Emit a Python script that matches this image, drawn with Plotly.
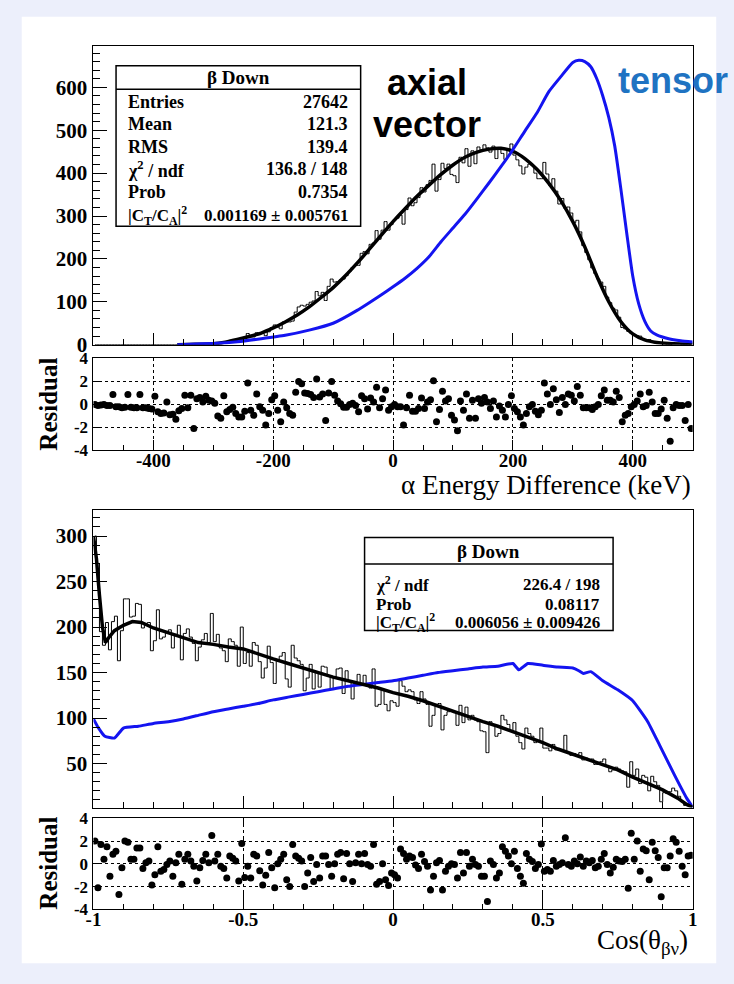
import numpy as np
import plotly.graph_objects as go

# ---------------- data : alpha energy difference (beta down) ----------------
E_MIN, E_MAX = -500.0, 500.0
energy_counts = [
    0, 0, 0, 0, 0, 0, 0, 0, 0, 0,
    0, 0, 0, 0, 0, 0, 0, 0, 0, 0,
    0, 0, 0, 0, 0, 0, 0, 0, 0, 0,
    0, 0, 1, 0, 1, 1, 1, 2, 2, 2,
    3, 2, 2, 7, 5, 7, 9, 9, 9, 10,
    14, 26, 18, 18, 28, 25, 26, 21, 30, 40,
    46, 41, 37, 53, 53, 53, 55, 76, 88, 92,
    90, 94, 99, 102, 124, 114, 122, 103, 136, 153,
    146, 147, 151, 153, 161, 171, 180, 185, 185, 213,
    217, 212, 234, 237, 266, 246, 267, 287, 267, 280,
    291, 295, 302, 281, 315, 342, 324, 331, 343, 366,
    356, 373, 383, 421, 358, 385, 423, 411, 421, 397,
    394, 378, 437, 424, 457, 416, 452, 422, 461, 454,
    466, 459, 449, 463, 434, 455, 446, 432, 454, 468,
    442, 431, 417, 398, 414, 421, 418, 400, 387, 387,
    425, 398, 371, 387, 358, 328, 341, 318, 321, 307,
    285, 290, 263, 231, 215, 198, 179, 166, 153, 146,
    136, 111, 98, 85, 81, 64, 40, 37, 31, 27,
    23, 21, 20, 12, 10, 12, 8, 4, 3, 3,
    4, 1, 0, 2, 2, 2, 1, 0, 1, 0,
]
energy_resid = [
    0, -0.1, -0.05, 0, -0.1, -0.1, 0.85, -0.2, -0.2, -0.3,
    -0.25, 0.85, -0.25, -0.3, -0.3, 0.85, -0.3, -0.3, -0.35, -0.4,
    0.7, -0.65, -0.8, -0.75, 0.2, -0.9, -0.85, -1.3, -0.55, -0.35,
    0.8, -0.3, 0.8, -2.1, 0.5, 0.6, 0.2, 0.7, 0.35, 0.3,
    0.1, -1.0, -1.2, 0.75, -0.65, -0.45, -0.25, -0.8, -1.1, -1.1,
    -0.6, 1.85, -0.5, -0.95, 0.9, -0.2, -0.5, -1.8, -0.8, 0.4,
    0.75, -0.5, -1.5, 0.2, -0.3, -0.8, -0.95, 1.05, 2.0, 1.8,
    1.0, 0.95, 0.85, 0.6, 2.2, 0.65, 0.9, -1.4, 1.0, 2.0,
    0.8, 0.3, 0.05, -0.25, -0.25, 0, 0.1, -0.1, -0.65, 0.75,
    0.5, -0.4, 0.55, 0.2, 1.5, -0.3, 0.5, 1.25, -0.5, -0.2,
    0, -0.2, -0.2, -1.8, -0.3, 0.8, -0.6, -0.6, -0.35, 0.55,
    -0.35, 0.2, 0.4, 2.05, -1.5, -0.45, 1.15, 0.3, 0.5, -0.95,
    -1.35, -2.3, 0.3, -0.5, 0.9, -1.2, 0.35, -1.2, 0.5, 0.1,
    0.6, 0.2, -0.35, 0.3, -1.1, -0.15, -0.5, -1.1, 0, 0.75,
    -0.35, -0.65, -1.1, -1.8, -0.8, -0.2, 0, -0.6, -0.9, -0.5,
    1.85, 0.9, 0, 1.35, 0.4, -0.7, 0.6, 0, 0.9, 0.8,
    0.3, 1.55, 0.8, -0.3, -0.3, -0.3, -0.45, -0.2, 0, 0.75,
    1.25, 0.35, 0.35, 0.2, 1.15, 0.6, -1.5, -0.95, -0.8, -0.2,
    0, 0.3, 0.9, -0.2, -0.1, 1.05, 0.2, -0.8, -0.8, -0.4,
    0.35, -1.2, -3.2, -0.3, 0, -0.1, -0.1, -1.4, 0, -2.1,
]
# axial-vector fit curve
energy_fit_x = [-360, -340, -320, -300, -280, -260, -240, -220, -200, -180,
                -160, -140, -120, -100, -80, -60, -40, -20, 0, 20,
                40, 60, 80, 100, 120, 140, 160, 180, 200, 220,
                240, 260, 280, 300, 320, 340, 360, 380, 400, 420,
                440, 460, 480, 500]
energy_fit_y = [0, 0.5, 1, 2, 6, 12, 19, 27, 39, 53,
                69, 88, 110, 133, 160, 190, 222, 255, 287, 317,
                346, 372, 397, 419, 437, 449, 456, 458, 451, 434,
                409, 376, 336, 287, 228, 160, 100, 54, 25, 11,
                5, 2.5, 1.5, 1]
# tensor curve
energy_tensor_x = [-360, -340, -300, -260, -220, -180, -140, -100, -60, -20,
                   0, 20, 40, 60, 80, 100, 120, 140, 160, 180,
                   200, 220, 240, 260, 280, 300, 310, 320, 330, 340,
                   350, 360, 370, 380, 390, 400, 410, 420, 430, 440,
                   460, 480, 500]
energy_tensor_y = [0, 1, 3, 7, 14, 22, 34, 50, 80, 116,
                   135, 155, 178, 205, 240, 272, 304, 340, 377, 415,
                   455, 498, 540, 590, 625, 658, 663, 660, 648, 620,
                   580, 530, 463, 365, 260, 160, 95, 55, 32, 23,
                   14, 9, 6]

# ---------------- data : cos(theta_beta_nu) (beta down) ----------------
C_MIN, C_MAX = -1.0, 1.0
cos_counts = [
    300, 270, 195, 180, 205, 175, 206, 212, 163, 196,
    231, 231, 211, 212, 226, 225, 199, 204, 205, 174,
    185, 219, 187, 189, 194, 197, 177, 192, 202, 164,
    193, 198, 189, 182, 163, 178, 186, 193, 183, 215,
    184, 192, 177, 174, 162, 187, 184, 180, 157, 200,
    160, 172, 157, 183, 180, 162, 144, 155, 179, 161,
    138, 164, 168, 172, 143, 134, 180, 166, 163, 159,
    130, 144, 159, 132, 150, 134, 157, 156, 146, 132,
    145, 154, 155, 127, 152, 141, 121, 140, 148, 137,
    147, 135, 133, 154, 113, 115, 132, 115, 108, 119,
    117, 113, 141, 135, 129, 131, 129, 120, 116, 129,
    121, 115, 91, 103, 115, 116, 87, 103, 107, 108,
    106, 92, 114, 95, 112, 98, 103, 98, 96, 86,
    85, 62, 96, 92, 80, 83, 103, 98, 93, 86,
    95, 80, 73, 66, 89, 83, 80, 73, 75, 89,
    67, 67, 64, 71, 65, 65, 65, 81, 62, 59,
    61, 58, 62, 54, 56, 54, 55, 49, 49, 52,
    55, 47, 41, 43, 46, 44, 42, 41, 24, 52,
    37, 44, 28, 37, 35, 20, 36, 30, 26, 8,
    18, 17, 19, 23, 20, 14, 8, 4, 6, 4,
]
cos_resid = [
    2.0, -2.1, 1.7, 0.4, 1.5, -1.1, 0.85, 1.1, -2.7, -0.35,
    2.0, 1.9, 0.4, 0.4, 1.4, 1.4, -0.4, 0.1, 0.25, -1.85,
    -0.95, 1.5, -0.65, -0.5, -0.05, 0.25, -1.1, 0.1, 0.85, -1.8,
    0.4, 0.85, 0.25, -0.2, -1.5, -0.35, 0.3, 0.85, 0.1, 2.5,
    0.25, 0.85, -0.2, -0.4, -1.25, 0.7, 0.5, 0.25, -1.5, 1.8,
    -1.2, -0.2, -1.25, 0.85, 0.7, -0.6, -1.85, -1.0, 1.0, -0.35,
    -2.1, 0, 0.4, 0.85, -1.4, -2.0, 1.7, 0.7, 0.5, 0.25,
    -2.0, -0.8, 0.55, -1.55, -0.05, -1.25, 0.7, 0.7, -0.05, -1.1,
    0, 0.85, 1.0, -1.3, 0.9, 0, -1.55, 0.1, 0.85, 0,
    0.9, -0.05, -0.2, 1.7, -1.8, -1.55, 0, -1.4, -1.9, -0.8,
    -0.95, -1.25, 1.3, 0.9, 0.4, 0.7, 0.55, -0.1, -0.4, 0.85,
    0.2, -0.2, -2.3, -1.1, 0.1, 0.3, -2.3, -0.65, -0.2, 0,
    -0.05, -1.25, 1.0, -0.8, 1.0, -0.2, 0.4, -0.05, -0.2, -1.1,
    -1.1, -3.3, 0.25, -0.05, -1.25, -0.8, 1.5, 1.1, 0.7, 0,
    1.1, -0.4, -1.1, -1.7, 0.9, 0.4, 0.2, -0.4, -0.05, 1.75,
    -0.65, -0.5, -0.65, 0.3, -0.2, -0.05, 0.1, 2.3, -0.05, -0.2,
    0.25, 0, 0.6, -0.2, 0.25, 0.1, 0.3, -0.35, -0.2, 0.4,
    0.9, -0.05, -0.8, -0.3, 0.4, 0.25, 0.2, 0.4, -2.15, 2.7,
    0.4, 2.0, -0.65, 1.3, 1.15, -1.4, 1.9, 1.15, 0.55, -2.9,
    -0.35, -0.35, 0.7, 2.2, 1.9, 1.1, -0.2, -0.95, 0.7, 0.75,
]
cos_fit_x = [-1.0, -0.99, -0.98, -0.97, -0.96, -0.95, -0.93, -0.90, -0.87, -0.84,
             -0.80, -0.75, -0.70, -0.65, -0.60, -0.55, -0.50, -0.45, -0.40, -0.35,
             -0.30, -0.25, -0.20, -0.15, -0.10, -0.05, 0.0, 0.05, 0.10, 0.15,
             0.20, 0.25, 0.30, 0.35, 0.40, 0.45, 0.50, 0.55, 0.60, 0.65,
             0.70, 0.75, 0.80, 0.85, 0.90, 0.95, 0.98, 1.0]
cos_fit_y = [300, 275, 235, 200, 183, 188, 196, 202, 206, 205,
             199, 194, 188, 183, 181, 178, 176, 170, 165, 160,
             155, 150, 145, 141, 137, 133, 128, 124, 119, 113,
             107, 101, 96, 91, 85, 80, 73, 66, 60, 54,
             49, 43, 35, 28, 21, 12, 5, 2]
cos_tensor_x = [-1.0, -0.985, -0.962, -0.93, -0.90, -0.85, -0.80, -0.75, -0.70, -0.65,
                -0.60, -0.55, -0.50, -0.45, -0.40, -0.35, -0.30, -0.25, -0.20, -0.15,
                -0.10, -0.05, 0.0, 0.05, 0.10, 0.15, 0.20, 0.25, 0.30, 0.35,
                0.40, 0.42, 0.45, 0.50, 0.55, 0.60, 0.62, 0.635, 0.66, 0.70,
                0.75, 0.80, 0.85, 0.89, 0.94, 0.98, 1.0]
cos_tensor_y = [99, 90, 80, 78, 89, 91, 94, 96, 99, 103,
                107, 110, 113, 116, 120, 123, 126, 129, 132, 135,
                137, 139, 141, 144, 147, 150, 152, 154, 156, 157,
                160, 153, 160, 158, 156, 155, 152, 149, 151, 141,
                131, 119, 96, 70, 37, 12, 2]

# tick labels
energy_tickvals = [-400, -200, 0, 200, 400]
energy_ticktext = ["-400", "-200", "0", "200", "400"]
resid_tickvals = [-4, -2, 0, 2, 4]
resid_ticktext = ["-4", "-2", "0", "2", "4"]
cos_tickvals = [-1, -0.5, 0, 0.5, 1]
cos_ticktext = ["-1", "-0.5", "0", "0.5", "1"]
top_tickvals = [0, 100, 200, 300, 400, 500, 600]
bot_tickvals = [50, 100, 150, 200, 250, 300]

# ---------------- geometry helpers ----------------
W, H = 734, 984


def px(x):
    return x / W


def py(y):
    return 1 - y / H


def centers(lo, hi, n):
    w = (hi - lo) / n
    return np.linspace(lo + w / 2, hi - w / 2, n)


e_x = centers(E_MIN, E_MAX, len(energy_counts))
c_x = centers(C_MIN, C_MAX, len(cos_counts))

SERIF = "Liberation Serif"
SANS = "Liberation Sans"
BLUE = "#1414F0"

fig = go.Figure()

# top histogram
fig.add_trace(go.Scatter(x=e_x, y=energy_counts, mode="lines", line=dict(shape="hvh", color="black", width=1),
                         xaxis="x", yaxis="y", hoverinfo="skip"))
fig.add_trace(go.Scatter(x=energy_fit_x, y=energy_fit_y, mode="lines",
                         line=dict(shape="spline", smoothing=0.6, color="black", width=3.5),
                         xaxis="x", yaxis="y"))
fig.add_trace(go.Scatter(x=energy_tensor_x, y=energy_tensor_y, mode="lines",
                         line=dict(shape="spline", smoothing=0.5, color=BLUE, width=3),
                         xaxis="x", yaxis="y"))
# residual 1
fig.add_trace(go.Scatter(x=e_x, y=energy_resid, mode="markers", marker=dict(color="black", size=7),
                         xaxis="x2", yaxis="y2"))
# bottom histogram
fig.add_trace(go.Scatter(x=c_x, y=cos_counts, mode="lines", line=dict(shape="hvh", color="black", width=1),
                         xaxis="x3", yaxis="y3"))
fig.add_trace(go.Scatter(x=cos_tensor_x, y=cos_tensor_y, mode="lines",
                         line=dict(shape="spline", smoothing=0.4, color=BLUE, width=3),
                         xaxis="x3", yaxis="y3"))
fig.add_trace(go.Scatter(x=cos_fit_x, y=cos_fit_y, mode="lines",
                         line=dict(shape="linear", color="black", width=3.5),
                         xaxis="x3", yaxis="y3"))
# residual 2
fig.add_trace(go.Scatter(x=c_x, y=cos_resid, mode="markers", marker=dict(color="black", size=7),
                         xaxis="x4", yaxis="y4"))

XD = [px(87), px(697)]
tickfont = dict(family=SERIF, size=21, color="black", weight="bold")
xtickfont = dict(family=SERIF, size=19, color="black", weight="bold")
rtickfont = dict(family=SERIF, size=17, color="black", weight="bold")


def frame(**kw):
    d = dict(showline=True, mirror=True, linecolor="black", linewidth=1, zeroline=False,
             ticks="inside", tickcolor="black", tickwidth=1)
    d.update(kw)
    return d


fig.update_layout(
    width=W, height=H, margin=dict(l=0, r=0, t=0, b=0),
    paper_bgcolor="#ECEFFB", plot_bgcolor="white", showlegend=False,
    xaxis=frame(domain=XD, anchor="y", range=[E_MIN, E_MAX], tickmode="array", tickvals=energy_tickvals,
                showticklabels=False, ticklen=12, showgrid=False,
                minor=dict(ticks="inside", ticklen=6, tickmode="linear", tick0=0, dtick=50, tickcolor="black", showgrid=False)),
    yaxis=frame(domain=[py(343), py(38)], anchor="x", range=[0, 696], tickmode="array", tickvals=top_tickvals,
                ticktext=[str(v) for v in top_tickvals], tickfont=tickfont, ticklen=14, showgrid=False,
                ticklabelstandoff=1,
                minor=dict(ticks="inside", ticklen=7, tickmode="linear", tick0=0, dtick=20, tickcolor="black", showgrid=False)),
    xaxis2=frame(domain=XD, anchor="y2", range=[E_MIN, E_MAX], tickmode="array", tickvals=energy_tickvals,
                 ticktext=energy_ticktext, tickfont=xtickfont, ticklen=10, ticklabelstandoff=-7,
                 showgrid=True, gridcolor="black", griddash="dot", gridwidth=1,
                 minor=dict(ticks="inside", ticklen=5, tickmode="linear", tick0=0, dtick=50, tickcolor="black", showgrid=False)),
    yaxis2=frame(domain=[py(451), py(357)], anchor="x2", range=[-4, 4], tickmode="array", tickvals=resid_tickvals,
                 ticktext=resid_ticktext, tickfont=rtickfont, ticklen=8, ticklabelstandoff=1,
                 showgrid=True, gridcolor="black", griddash="dot", gridwidth=1),
    xaxis3=frame(domain=XD, anchor="y3", range=[C_MIN, C_MAX], tickmode="array", tickvals=cos_tickvals,
                 showticklabels=False, ticklen=12, showgrid=False,
                 minor=dict(ticks="inside", ticklen=6, tickmode="linear", tick0=0, dtick=0.1, tickcolor="black", showgrid=False)),
    yaxis3=frame(domain=[py(816), py(512)], anchor="x3", range=[1.6, 328.6], tickmode="array", tickvals=bot_tickvals,
                 ticktext=[str(v) for v in bot_tickvals], tickfont=tickfont, ticklen=14, showgrid=False,
                 ticklabelstandoff=1,
                 minor=dict(ticks="inside", ticklen=7, tickmode="linear", tick0=0, dtick=10, tickcolor="black", showgrid=False)),
    xaxis4=frame(domain=XD, anchor="y4", range=[C_MIN, C_MAX], tickmode="array", tickvals=cos_tickvals,
                 ticktext=cos_ticktext, tickfont=xtickfont, ticklen=10, ticklabelstandoff=-7,
                 showgrid=True, gridcolor="black", griddash="dashdot", gridwidth=1,
                 minor=dict(ticks="inside", ticklen=5, tickmode="linear", tick0=0, dtick=0.1, tickcolor="black", showgrid=False)),
    yaxis4=frame(domain=[py(920), py(827)], anchor="x4", range=[-4, 4], tickmode="array", tickvals=resid_tickvals,
                 ticktext=resid_ticktext, tickfont=rtickfont, ticklen=8, ticklabelstandoff=1,
                 showgrid=True, gridcolor="black", griddash="dot", gridwidth=1),
)

shapes = [
    dict(type="rect", xref="paper", yref="paper", x0=px(14), x1=px(721), y0=py(975), y1=py(8),
         fillcolor="white", line=dict(width=0), layer="below"),
    # top stats box
    dict(type="rect", xref="paper", yref="paper", x0=px(110), x1=px(359), y0=py(222), y1=py(58),
         fillcolor="white", line=dict(color="black", width=1.5)),
    dict(type="line", xref="paper", yref="paper", x0=px(110), x1=px(359), y0=py(82), y1=py(82),
         line=dict(color="black", width=1.5)),
    # bottom stats box
    dict(type="rect", xref="paper", yref="paper", x0=px(363), x1=px(616), y0=py(635), y1=py(540),
         fillcolor="white", line=dict(color="black", width=1.5)),
    dict(type="line", xref="paper", yref="paper", x0=px(363), x1=px(616), y0=py(567), y1=py(567),
         line=dict(color="black", width=1.5)),
]
fig.update_layout(shapes=shapes)

ann = []


def text(x, y, s, size, anchor="left", family=SERIF, weight="bold", color="black", angle=0):
    ann.append(dict(xref="paper", yref="paper", x=px(x), y=py(y), text=s, showarrow=False,
                    xanchor=anchor, yanchor="middle", textangle=angle,
                    font=dict(family=family, size=size, color=color, weight=weight)))


# top stats
text(234.5, 70, "β Down", 19, "center")
top_rows = [("Entries", "27642", 18), ("Mean", "121.3", 18), ("RMS", "139.4", 18),
            ("χ<sup>2</sup> / ndf", "136.8 / 148", 18), ("Prob", "0.7354", 18),
            ("|C<sub>T</sub>/C<sub>A</sub>|<sup>2</sup>", "0.001169 ± 0.005761", 17)]
for (lab, val, fs), yy in zip(top_rows, [95, 118, 141, 164, 187, 211]):
    text(120, yy, lab, fs, "left")
    text(348, yy, val, fs, "right")

# bottom stats
text(489.5, 554, "β Down", 19, "center")
bot_rows = [("χ<sup>2</sup> / ndf", "226.4 / 198"), ("Prob", "0.08117"),
            ("|C<sub>T</sub>/C<sub>A</sub>|<sup>2</sup>", "0.006056 ± 0.009426")]
for (lab, val), yy in zip(bot_rows, [588, 608, 627]):
    text(373, yy, lab, 17, "left")
    text(605, yy, val, 17, "right")

# labels
text(427, 75, "axial", 36, "center", family=SANS)
text(427, 118, "vector", 36, "center", family=SANS)
text(619, 73, "tensor", 36, "left", family=SANS, color="#1F73C2")

text(697, 486, "α Energy Difference (keV)", 27, "right", weight="normal")
text(694, 953, "Cos(θ<sub>βν</sub>)", 27, "right", weight="normal")
text(41, 404, "Residual", 25, "center", angle=-90)
text(41, 873, "Residual", 25, "center", angle=-90)

fig.update_layout(annotations=ann)

fig.write_html("out.html")

# remove the browser's default body margin so the figure sits at the page origin
with open("out.html", "r", encoding="utf-8") as f:
    html = f.read()
html = html.replace("<body>", '<body style="margin:0;padding:0;overflow:hidden;">', 1)
with open("out.html", "w", encoding="utf-8") as f:
    f.write(html)
